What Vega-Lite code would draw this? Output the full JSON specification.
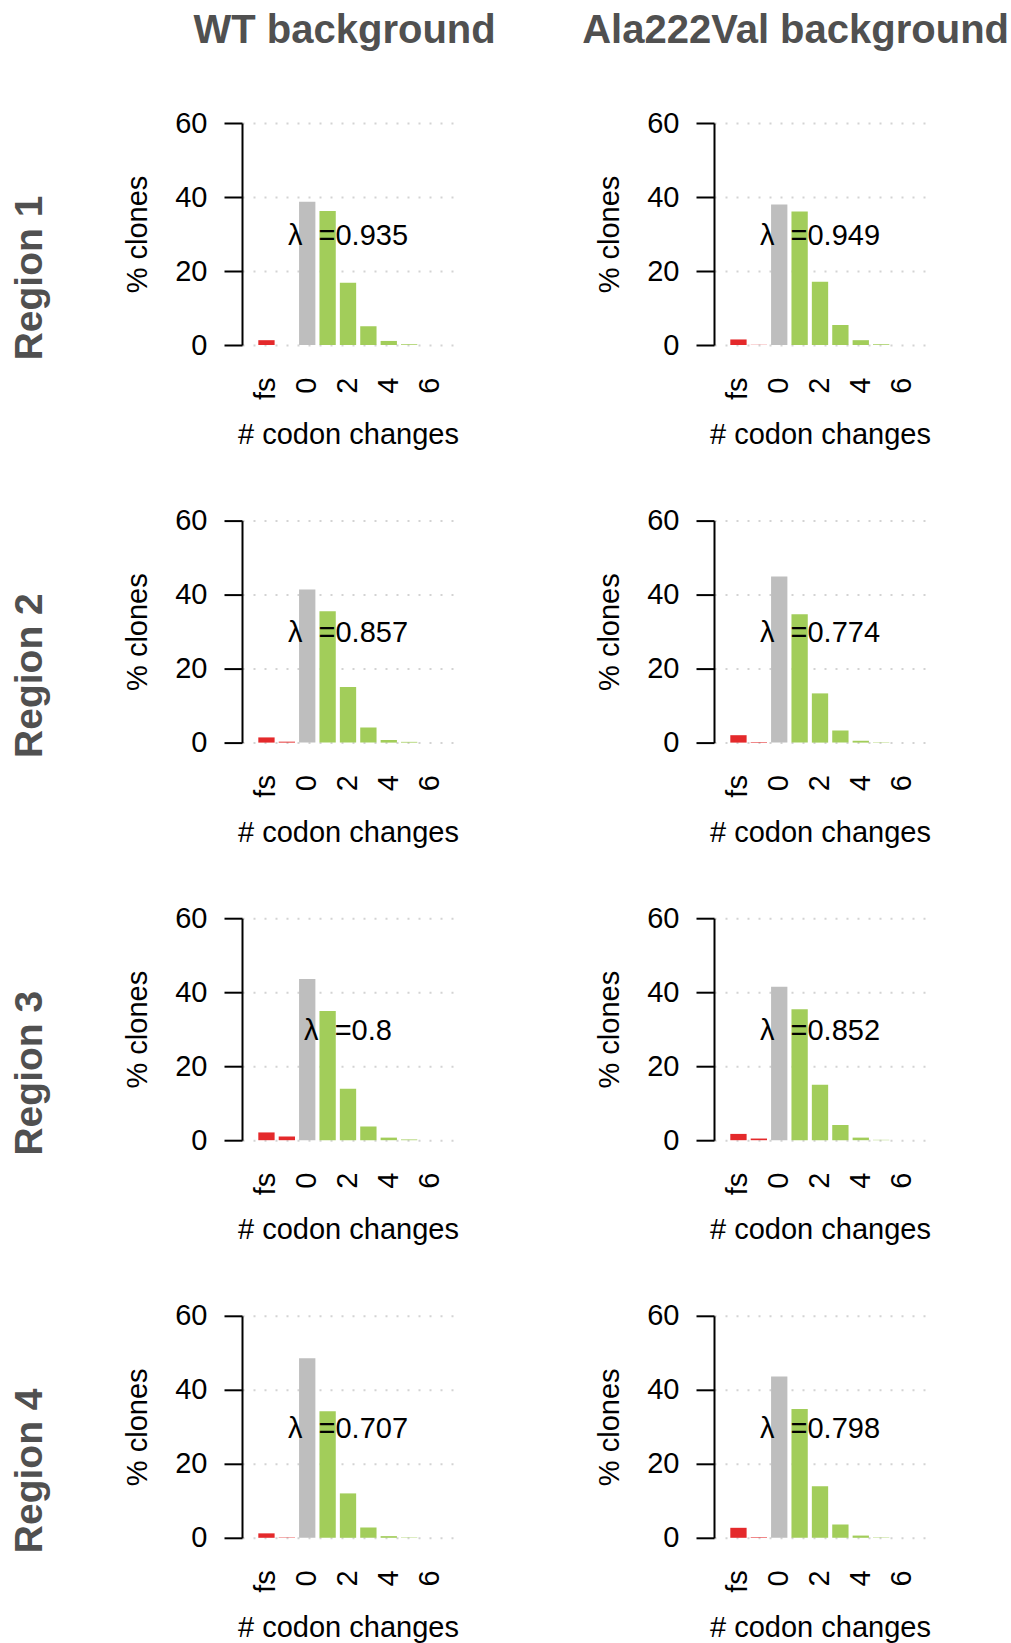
{
  "$schema": "https://vega.github.io/schema/vega-lite/v6.json",
  "padding": {"left": 10, "top": 11, "right": 2, "bottom": 2},
  "datasets": {
    "bars": [
      {"bg": "WT", "region": 1, "change": "fs", "type": "frameshift", "pct": 1.3},
      {"bg": "WT", "region": 1, "change": "stop", "type": "stop", "pct": 0},
      {"bg": "WT", "region": 1, "change": "0", "type": "unchanged", "pct": 38.7},
      {"bg": "WT", "region": 1, "change": "1", "type": "changed", "pct": 36.2},
      {"bg": "WT", "region": 1, "change": "2", "type": "changed", "pct": 16.8},
      {"bg": "WT", "region": 1, "change": "3", "type": "changed", "pct": 5.1},
      {"bg": "WT", "region": 1, "change": "4", "type": "changed", "pct": 1.1},
      {"bg": "WT", "region": 1, "change": "5", "type": "changed", "pct": 0.2},
      {"bg": "WT", "region": 1, "change": "6", "type": "changed", "pct": 0},
      {"bg": "Ala", "region": 1, "change": "fs", "type": "frameshift", "pct": 1.5},
      {"bg": "Ala", "region": 1, "change": "stop", "type": "stop", "pct": 0.05},
      {"bg": "Ala", "region": 1, "change": "0", "type": "unchanged", "pct": 38.0},
      {"bg": "Ala", "region": 1, "change": "1", "type": "changed", "pct": 36.1},
      {"bg": "Ala", "region": 1, "change": "2", "type": "changed", "pct": 17.1},
      {"bg": "Ala", "region": 1, "change": "3", "type": "changed", "pct": 5.4},
      {"bg": "Ala", "region": 1, "change": "4", "type": "changed", "pct": 1.3},
      {"bg": "Ala", "region": 1, "change": "5", "type": "changed", "pct": 0.2},
      {"bg": "Ala", "region": 1, "change": "6", "type": "changed", "pct": 0},
      {"bg": "WT", "region": 2, "change": "fs", "type": "frameshift", "pct": 1.4},
      {"bg": "WT", "region": 2, "change": "stop", "type": "stop", "pct": 0.25},
      {"bg": "WT", "region": 2, "change": "0", "type": "unchanged", "pct": 41.4},
      {"bg": "WT", "region": 2, "change": "1", "type": "changed", "pct": 35.5},
      {"bg": "WT", "region": 2, "change": "2", "type": "changed", "pct": 15.0},
      {"bg": "WT", "region": 2, "change": "3", "type": "changed", "pct": 4.1},
      {"bg": "WT", "region": 2, "change": "4", "type": "changed", "pct": 0.7},
      {"bg": "WT", "region": 2, "change": "5", "type": "changed", "pct": 0.2},
      {"bg": "WT", "region": 2, "change": "6", "type": "changed", "pct": 0},
      {"bg": "Ala", "region": 2, "change": "fs", "type": "frameshift", "pct": 2.0},
      {"bg": "Ala", "region": 2, "change": "stop", "type": "stop", "pct": 0.15},
      {"bg": "Ala", "region": 2, "change": "0", "type": "unchanged", "pct": 44.9},
      {"bg": "Ala", "region": 2, "change": "1", "type": "changed", "pct": 34.7},
      {"bg": "Ala", "region": 2, "change": "2", "type": "changed", "pct": 13.3},
      {"bg": "Ala", "region": 2, "change": "3", "type": "changed", "pct": 3.3},
      {"bg": "Ala", "region": 2, "change": "4", "type": "changed", "pct": 0.5},
      {"bg": "Ala", "region": 2, "change": "5", "type": "changed", "pct": 0.1},
      {"bg": "Ala", "region": 2, "change": "6", "type": "changed", "pct": 0},
      {"bg": "WT", "region": 3, "change": "fs", "type": "frameshift", "pct": 2.1},
      {"bg": "WT", "region": 3, "change": "stop", "type": "stop", "pct": 1.0},
      {"bg": "WT", "region": 3, "change": "0", "type": "unchanged", "pct": 43.6},
      {"bg": "WT", "region": 3, "change": "1", "type": "changed", "pct": 34.9},
      {"bg": "WT", "region": 3, "change": "2", "type": "changed", "pct": 13.9},
      {"bg": "WT", "region": 3, "change": "3", "type": "changed", "pct": 3.7},
      {"bg": "WT", "region": 3, "change": "4", "type": "changed", "pct": 0.7},
      {"bg": "WT", "region": 3, "change": "5", "type": "changed", "pct": 0.2},
      {"bg": "WT", "region": 3, "change": "6", "type": "changed", "pct": 0},
      {"bg": "Ala", "region": 3, "change": "fs", "type": "frameshift", "pct": 1.7},
      {"bg": "Ala", "region": 3, "change": "stop", "type": "stop", "pct": 0.45},
      {"bg": "Ala", "region": 3, "change": "0", "type": "unchanged", "pct": 41.5},
      {"bg": "Ala", "region": 3, "change": "1", "type": "changed", "pct": 35.4},
      {"bg": "Ala", "region": 3, "change": "2", "type": "changed", "pct": 15.0},
      {"bg": "Ala", "region": 3, "change": "3", "type": "changed", "pct": 4.1},
      {"bg": "Ala", "region": 3, "change": "4", "type": "changed", "pct": 0.7},
      {"bg": "Ala", "region": 3, "change": "5", "type": "changed", "pct": 0.1},
      {"bg": "Ala", "region": 3, "change": "6", "type": "changed", "pct": 0},
      {"bg": "WT", "region": 4, "change": "fs", "type": "frameshift", "pct": 1.2},
      {"bg": "WT", "region": 4, "change": "stop", "type": "stop", "pct": 0.1},
      {"bg": "WT", "region": 4, "change": "0", "type": "unchanged", "pct": 48.5},
      {"bg": "WT", "region": 4, "change": "1", "type": "changed", "pct": 34.2},
      {"bg": "WT", "region": 4, "change": "2", "type": "changed", "pct": 12.0},
      {"bg": "WT", "region": 4, "change": "3", "type": "changed", "pct": 2.8},
      {"bg": "WT", "region": 4, "change": "4", "type": "changed", "pct": 0.45},
      {"bg": "WT", "region": 4, "change": "5", "type": "changed", "pct": 0.1},
      {"bg": "WT", "region": 4, "change": "6", "type": "changed", "pct": 0},
      {"bg": "Ala", "region": 4, "change": "fs", "type": "frameshift", "pct": 2.7},
      {"bg": "Ala", "region": 4, "change": "stop", "type": "stop", "pct": 0.15},
      {"bg": "Ala", "region": 4, "change": "0", "type": "unchanged", "pct": 43.6},
      {"bg": "Ala", "region": 4, "change": "1", "type": "changed", "pct": 34.8},
      {"bg": "Ala", "region": 4, "change": "2", "type": "changed", "pct": 13.9},
      {"bg": "Ala", "region": 4, "change": "3", "type": "changed", "pct": 3.6},
      {"bg": "Ala", "region": 4, "change": "4", "type": "changed", "pct": 0.6},
      {"bg": "Ala", "region": 4, "change": "5", "type": "changed", "pct": 0.1},
      {"bg": "Ala", "region": 4, "change": "6", "type": "changed", "pct": 0}
    ],
    "lambdas": [
      {"bg": "WT", "region": 1, "lambda": "0.935"},
      {"bg": "Ala", "region": 1, "lambda": "0.949"},
      {"bg": "WT", "region": 2, "lambda": "0.857"},
      {"bg": "Ala", "region": 2, "lambda": "0.774"},
      {"bg": "WT", "region": 3, "lambda": "0.8"},
      {"bg": "Ala", "region": 3, "lambda": "0.852"},
      {"bg": "WT", "region": 4, "lambda": "0.707"},
      {"bg": "Ala", "region": 4, "lambda": "0.798"}
    ]
  },
  "config": {
    "font": "Liberation Sans",
    "view": {"stroke": null},
    "title": {"font": "Liberation Sans", "fontSize": 40, "fontWeight": "bold", "color": "#505050"},
    "axisX": {
      "labelAngle": -90, "labelAlign": "right", "labelBaseline": "middle",
      "labelFont": "Liberation Sans", "labelFontSize": 29, "labelColor": "black",
      "labelPadding": 32, "ticks": false, "tickSize": 0, "domain": false, "grid": false,
      "titleFont": "Liberation Sans", "titleFontSize": 29, "titleFontWeight": "normal", "titleColor": "black",
      "titlePadding": 21, "labelOverlap": false
    },
    "axisY": {
      "tickSize": 18, "tickWidth": 2, "tickColor": "black",
      "domainColor": "black", "domainWidth": 2,
      "labelFont": "Liberation Sans", "labelFontSize": 29, "labelColor": "black", "labelPadding": 17,
      "labelFlush": false, "labelOverlap": false,
      "grid": true, "gridColor": "#d3d3d3", "gridDash": [2, 9], "gridWidth": 2,
      "titleFont": "Liberation Sans", "titleFontSize": 29, "titleFontWeight": "normal", "titleColor": "black",
      "titlePadding": 22, "zindex": 1
    }
  },
  "spacing": 86,
  "hconcat": [
    {
      "title": {"text": "WT background", "anchor": "middle", "offset": 58, "dx": 110},
      "spacing": 56.6,
      "vconcat": [
        {"width": 212, "height": 222, "title": {"text": "Region 1", "orient": "left", "anchor": "middle", "offset": 74, "dx": -44, "fontSize": 39},
         "layer": [
          {"data": {"name": "bars"}, "transform": [{"filter": "datum.bg == 'WT' && datum.region == 1"}], "mark": {"type": "bar"},
           "encoding": {
            "x": {"field": "change", "type": "ordinal", "scale": {"domain": ["fs", "stop", "0", "1", "2", "3", "4", "5", "6"], "paddingInner": 0.2, "paddingOuter": 0.8}, "axis": {"values": ["fs", "0", "2", "4", "6"], "title": "# codon changes"}},
            "y": {"field": "pct", "type": "quantitative", "scale": {"domain": [0, 60]}, "axis": {"values": [0, 20, 40, 60], "title": "% clones"}},
            "color": {"field": "type", "type": "nominal", "scale": {"domain": ["frameshift", "stop", "unchanged", "changed"], "range": ["#e4292b", "#e4292b", "#bebebe", "#a2cd5a"]}, "legend": null}}},
          {"data": {"name": "lambdas"}, "transform": [{"filter": "datum.bg == 'WT' && datum.region == 1"}, {"calculate": "'λ\u00a0 =' + datum.lambda", "as": "label"}],
           "mark": {"type": "text", "fontSize": 29, "baseline": "middle", "align": "center", "color": "black"},
           "encoding": {"x": {"datum": "2", "type": "ordinal"}, "y": {"datum": 29.5, "type": "quantitative"}, "text": {"field": "label"}}}
         ]},
        {"width": 212, "height": 222, "title": {"text": "Region 2", "orient": "left", "anchor": "middle", "offset": 74, "dx": -44, "fontSize": 39},
         "layer": [
          {"data": {"name": "bars"}, "transform": [{"filter": "datum.bg == 'WT' && datum.region == 2"}], "mark": {"type": "bar"},
           "encoding": {
            "x": {"field": "change", "type": "ordinal", "scale": {"domain": ["fs", "stop", "0", "1", "2", "3", "4", "5", "6"], "paddingInner": 0.2, "paddingOuter": 0.8}, "axis": {"values": ["fs", "0", "2", "4", "6"], "title": "# codon changes"}},
            "y": {"field": "pct", "type": "quantitative", "scale": {"domain": [0, 60]}, "axis": {"values": [0, 20, 40, 60], "title": "% clones"}},
            "color": {"field": "type", "type": "nominal", "scale": {"domain": ["frameshift", "stop", "unchanged", "changed"], "range": ["#e4292b", "#e4292b", "#bebebe", "#a2cd5a"]}, "legend": null}}},
          {"data": {"name": "lambdas"}, "transform": [{"filter": "datum.bg == 'WT' && datum.region == 2"}, {"calculate": "'λ\u00a0 =' + datum.lambda", "as": "label"}],
           "mark": {"type": "text", "fontSize": 29, "baseline": "middle", "align": "center", "color": "black"},
           "encoding": {"x": {"datum": "2", "type": "ordinal"}, "y": {"datum": 29.5, "type": "quantitative"}, "text": {"field": "label"}}}
         ]},
        {"width": 212, "height": 222, "title": {"text": "Region 3", "orient": "left", "anchor": "middle", "offset": 74, "dx": -44, "fontSize": 39},
         "layer": [
          {"data": {"name": "bars"}, "transform": [{"filter": "datum.bg == 'WT' && datum.region == 3"}], "mark": {"type": "bar"},
           "encoding": {
            "x": {"field": "change", "type": "ordinal", "scale": {"domain": ["fs", "stop", "0", "1", "2", "3", "4", "5", "6"], "paddingInner": 0.2, "paddingOuter": 0.8}, "axis": {"values": ["fs", "0", "2", "4", "6"], "title": "# codon changes"}},
            "y": {"field": "pct", "type": "quantitative", "scale": {"domain": [0, 60]}, "axis": {"values": [0, 20, 40, 60], "title": "% clones"}},
            "color": {"field": "type", "type": "nominal", "scale": {"domain": ["frameshift", "stop", "unchanged", "changed"], "range": ["#e4292b", "#e4292b", "#bebebe", "#a2cd5a"]}, "legend": null}}},
          {"data": {"name": "lambdas"}, "transform": [{"filter": "datum.bg == 'WT' && datum.region == 3"}, {"calculate": "'λ\u00a0 =' + datum.lambda", "as": "label"}],
           "mark": {"type": "text", "fontSize": 29, "baseline": "middle", "align": "center", "color": "black"},
           "encoding": {"x": {"datum": "2", "type": "ordinal"}, "y": {"datum": 29.5, "type": "quantitative"}, "text": {"field": "label"}}}
         ]},
        {"width": 212, "height": 222, "title": {"text": "Region 4", "orient": "left", "anchor": "middle", "offset": 74, "dx": -44, "fontSize": 39},
         "layer": [
          {"data": {"name": "bars"}, "transform": [{"filter": "datum.bg == 'WT' && datum.region == 4"}], "mark": {"type": "bar"},
           "encoding": {
            "x": {"field": "change", "type": "ordinal", "scale": {"domain": ["fs", "stop", "0", "1", "2", "3", "4", "5", "6"], "paddingInner": 0.2, "paddingOuter": 0.8}, "axis": {"values": ["fs", "0", "2", "4", "6"], "title": "# codon changes"}},
            "y": {"field": "pct", "type": "quantitative", "scale": {"domain": [0, 60]}, "axis": {"values": [0, 20, 40, 60], "title": "% clones"}},
            "color": {"field": "type", "type": "nominal", "scale": {"domain": ["frameshift", "stop", "unchanged", "changed"], "range": ["#e4292b", "#e4292b", "#bebebe", "#a2cd5a"]}, "legend": null}}},
          {"data": {"name": "lambdas"}, "transform": [{"filter": "datum.bg == 'WT' && datum.region == 4"}, {"calculate": "'λ\u00a0 =' + datum.lambda", "as": "label"}],
           "mark": {"type": "text", "fontSize": 29, "baseline": "middle", "align": "center", "color": "black"},
           "encoding": {"x": {"datum": "2", "type": "ordinal"}, "y": {"datum": 29.5, "type": "quantitative"}, "text": {"field": "label"}}}
         ]}
      ]
    },
    {
      "title": {"text": "Ala222Val background", "anchor": "middle", "offset": 58, "dx": 32.5},
      "spacing": 56.6,
      "vconcat": [
        {"width": 212, "height": 222,
         "layer": [
          {"data": {"name": "bars"}, "transform": [{"filter": "datum.bg == 'Ala' && datum.region == 1"}], "mark": {"type": "bar"},
           "encoding": {
            "x": {"field": "change", "type": "ordinal", "scale": {"domain": ["fs", "stop", "0", "1", "2", "3", "4", "5", "6"], "paddingInner": 0.2, "paddingOuter": 0.8}, "axis": {"values": ["fs", "0", "2", "4", "6"], "title": "# codon changes"}},
            "y": {"field": "pct", "type": "quantitative", "scale": {"domain": [0, 60]}, "axis": {"values": [0, 20, 40, 60], "title": "% clones"}},
            "color": {"field": "type", "type": "nominal", "scale": {"domain": ["frameshift", "stop", "unchanged", "changed"], "range": ["#e4292b", "#e4292b", "#bebebe", "#a2cd5a"]}, "legend": null}}},
          {"data": {"name": "lambdas"}, "transform": [{"filter": "datum.bg == 'Ala' && datum.region == 1"}, {"calculate": "'λ\u00a0 =' + datum.lambda", "as": "label"}],
           "mark": {"type": "text", "fontSize": 29, "baseline": "middle", "align": "center", "color": "black"},
           "encoding": {"x": {"datum": "2", "type": "ordinal"}, "y": {"datum": 29.5, "type": "quantitative"}, "text": {"field": "label"}}}
         ]},
        {"width": 212, "height": 222,
         "layer": [
          {"data": {"name": "bars"}, "transform": [{"filter": "datum.bg == 'Ala' && datum.region == 2"}], "mark": {"type": "bar"},
           "encoding": {
            "x": {"field": "change", "type": "ordinal", "scale": {"domain": ["fs", "stop", "0", "1", "2", "3", "4", "5", "6"], "paddingInner": 0.2, "paddingOuter": 0.8}, "axis": {"values": ["fs", "0", "2", "4", "6"], "title": "# codon changes"}},
            "y": {"field": "pct", "type": "quantitative", "scale": {"domain": [0, 60]}, "axis": {"values": [0, 20, 40, 60], "title": "% clones"}},
            "color": {"field": "type", "type": "nominal", "scale": {"domain": ["frameshift", "stop", "unchanged", "changed"], "range": ["#e4292b", "#e4292b", "#bebebe", "#a2cd5a"]}, "legend": null}}},
          {"data": {"name": "lambdas"}, "transform": [{"filter": "datum.bg == 'Ala' && datum.region == 2"}, {"calculate": "'λ\u00a0 =' + datum.lambda", "as": "label"}],
           "mark": {"type": "text", "fontSize": 29, "baseline": "middle", "align": "center", "color": "black"},
           "encoding": {"x": {"datum": "2", "type": "ordinal"}, "y": {"datum": 29.5, "type": "quantitative"}, "text": {"field": "label"}}}
         ]},
        {"width": 212, "height": 222,
         "layer": [
          {"data": {"name": "bars"}, "transform": [{"filter": "datum.bg == 'Ala' && datum.region == 3"}], "mark": {"type": "bar"},
           "encoding": {
            "x": {"field": "change", "type": "ordinal", "scale": {"domain": ["fs", "stop", "0", "1", "2", "3", "4", "5", "6"], "paddingInner": 0.2, "paddingOuter": 0.8}, "axis": {"values": ["fs", "0", "2", "4", "6"], "title": "# codon changes"}},
            "y": {"field": "pct", "type": "quantitative", "scale": {"domain": [0, 60]}, "axis": {"values": [0, 20, 40, 60], "title": "% clones"}},
            "color": {"field": "type", "type": "nominal", "scale": {"domain": ["frameshift", "stop", "unchanged", "changed"], "range": ["#e4292b", "#e4292b", "#bebebe", "#a2cd5a"]}, "legend": null}}},
          {"data": {"name": "lambdas"}, "transform": [{"filter": "datum.bg == 'Ala' && datum.region == 3"}, {"calculate": "'λ\u00a0 =' + datum.lambda", "as": "label"}],
           "mark": {"type": "text", "fontSize": 29, "baseline": "middle", "align": "center", "color": "black"},
           "encoding": {"x": {"datum": "2", "type": "ordinal"}, "y": {"datum": 29.5, "type": "quantitative"}, "text": {"field": "label"}}}
         ]},
        {"width": 212, "height": 222,
         "layer": [
          {"data": {"name": "bars"}, "transform": [{"filter": "datum.bg == 'Ala' && datum.region == 4"}], "mark": {"type": "bar"},
           "encoding": {
            "x": {"field": "change", "type": "ordinal", "scale": {"domain": ["fs", "stop", "0", "1", "2", "3", "4", "5", "6"], "paddingInner": 0.2, "paddingOuter": 0.8}, "axis": {"values": ["fs", "0", "2", "4", "6"], "title": "# codon changes"}},
            "y": {"field": "pct", "type": "quantitative", "scale": {"domain": [0, 60]}, "axis": {"values": [0, 20, 40, 60], "title": "% clones"}},
            "color": {"field": "type", "type": "nominal", "scale": {"domain": ["frameshift", "stop", "unchanged", "changed"], "range": ["#e4292b", "#e4292b", "#bebebe", "#a2cd5a"]}, "legend": null}}},
          {"data": {"name": "lambdas"}, "transform": [{"filter": "datum.bg == 'Ala' && datum.region == 4"}, {"calculate": "'λ\u00a0 =' + datum.lambda", "as": "label"}],
           "mark": {"type": "text", "fontSize": 29, "baseline": "middle", "align": "center", "color": "black"},
           "encoding": {"x": {"datum": "2", "type": "ordinal"}, "y": {"datum": 29.5, "type": "quantitative"}, "text": {"field": "label"}}}
         ]}
      ]
    }
  ]
}
